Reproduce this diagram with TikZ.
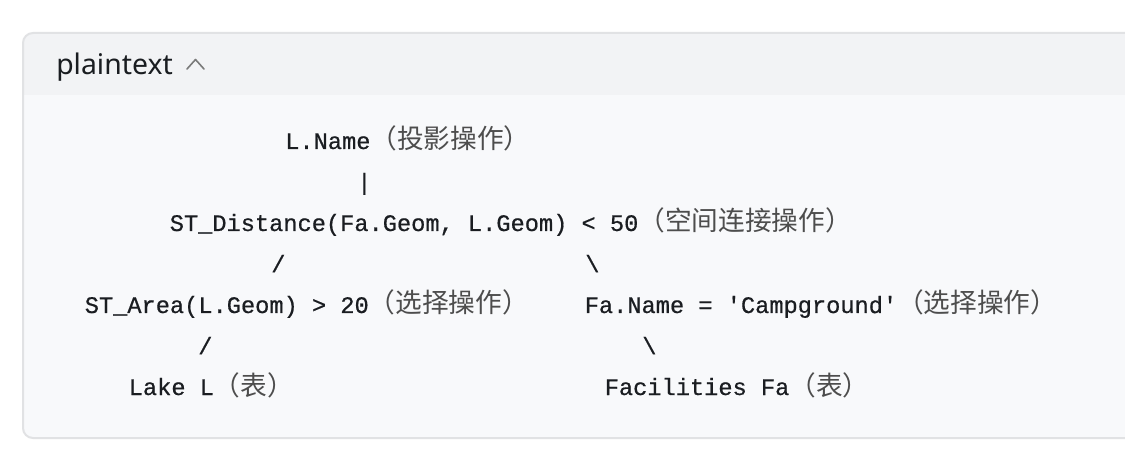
\documentclass[tikz,border=0pt]{standalone}
\usepackage{fontspec}
\setmainfont{Noto Sans}
\newfontfamily\codefont[FakeBold=0.6]{Liberation Mono}
\newfontfamily\cjkfont{Noto Sans CJK SC}
\definecolor{cardline}{HTML}{E1E2E4}
\definecolor{headfill}{HTML}{F2F3F5}
\definecolor{bodyfill}{HTML}{F8F9FB}
\definecolor{inktext}{HTML}{1A1D21}
\definecolor{cjkink}{HTML}{4D4D4D}
\definecolor{chevron}{HTML}{7A7A7A}
\newcommand{\zh}[1]{{\cjkfont\fontsize{20}{22}\selectfont\color{cjkink}#1}}

\begin{document}
\begin{tikzpicture}[x=0.75pt, y=-0.75pt,
  codeline/.style={anchor=base west, inner sep=0pt, text=inktext,
    font=\codefont\fontsize{17.75}{20}\selectfont}]
\useasboundingbox (0,0) rectangle (1125,452);
\fill[white] (0,0) rectangle (1125,452);

% card
\begin{scope}
\clip[rounded corners=7.5pt] (23,33) rectangle (1150,438);
\fill[bodyfill] (23,33) rectangle (1150,438);
\fill[headfill] (23,33) rectangle (1150,95);
\end{scope}
\draw[cardline, line width=1.5pt, rounded corners=7.5pt] (23,33) rectangle (1150,438);

% header
\node[anchor=base west, inner sep=0pt, text=inktext,
  font=\fontsize{21.3}{24}\selectfont] (lang) at (56,75) {plaintext};
\draw[chevron, line width=1.2pt, line cap=round, line join=round]
  (187,69) -- (195.5,59.5) -- (204,69);

% tree
\node[codeline] (lname) at (285,149) {L.Name\zh{（投影操作）}};
\node[codeline] (bar) at (357,190) {|};
\node[codeline] (dist) at (169.5,231) {ST\_Distance(Fa.Geom, L.Geom) < 50\zh{（空间连接操作）}};
\node[codeline] (slashl) at (271,272) {/};
\node[codeline] (slashr) at (585,272) {\textbackslash};
\node[codeline] (area) at (84.5,313) {ST\_Area(L.Geom) > 20\zh{（选择操作）}};
\node[codeline] (faname) at (584.5,313) {Fa.Name = 'Campground'\zh{（选择操作）}};
\node[codeline] (slashll) at (198,354) {/};
\node[codeline] (slashrr) at (642,354) {\textbackslash};
\node[codeline] (lake) at (128.5,395) {Lake L\zh{（表）}};
\node[codeline] (facil) at (604.5,395) {Facilities Fa\zh{（表）}};
\end{tikzpicture}
\end{document}
